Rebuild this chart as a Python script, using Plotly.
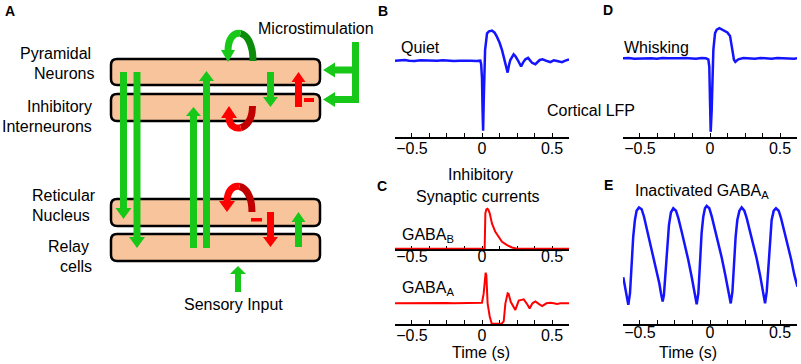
import plotly.graph_objects as go

W, H = 801, 364

# ---------------- data ----------------
# B: cortical LFP, quiet
b_t = [-0.621, -0.58, -0.55, -0.52, -0.48, -0.44, -0.40, -0.36, -0.32, -0.28, -0.24, -0.20, -0.16, -0.12,
       -0.08, -0.04, -0.012, -0.006, 0.0, 0.004, 0.008, 0.012, 0.016, 0.022, 0.036, 0.05, 0.071, 0.09,
       0.107, 0.125, 0.143, 0.155, 0.167, 0.183, 0.193, 0.202, 0.226, 0.24, 0.255, 0.279, 0.295, 0.31,
       0.329, 0.345, 0.357, 0.381, 0.40, 0.412, 0.433, 0.45, 0.464, 0.488, 0.512, 0.536, 0.55, 0.571,
       0.595, 0.621]
b_v = [0.0, 0.005, 0.01, 0.0, -0.005, 0.005, 0.0, -0.005, 0.0, 0.008, 0.0, -0.005, 0.0, 0.005,
       0.0, -0.005, 0.0, -0.05, -0.25, -0.7, -1.0, -0.6, -0.2, 0.15, 0.39, 0.42, 0.43, 0.40,
       0.34, 0.26, 0.15, 0.06, -0.04, -0.17, -0.06, 0.01, 0.09, 0.06, 0.01, -0.08, -0.02, 0.02,
       0.04, 0.0, -0.03, -0.05, -0.01, 0.01, 0.02, 0.0, -0.005, -0.02, 0.005, -0.005, -0.01, -0.02,
       0.0, 0.02]

# D: cortical LFP, whisking
d_t = [-0.624, -0.58, -0.54, -0.50, -0.46, -0.42, -0.38, -0.34, -0.30, -0.26, -0.22, -0.18, -0.14, -0.10,
       -0.06, -0.03, -0.012, -0.005, 0.0, 0.005, 0.012, 0.017, 0.024, 0.036, 0.048, 0.067, 0.095, 0.124,
       0.143, 0.157, 0.171, 0.181, 0.202, 0.238, 0.28, 0.32, 0.36, 0.40, 0.44, 0.48, 0.52, 0.56, 0.60, 0.621]
d_v = [0.0, 0.005, -0.005, 0.0, 0.005, 0.0, -0.005, 0.005, 0.0, -0.005, 0.0, 0.005, 0.0, -0.005,
       0.005, 0.0, -0.015, -0.12, -0.6, -1.05, -0.74, -0.26, 0.12, 0.36, 0.41, 0.43, 0.40, 0.37,
       0.32, 0.17, -0.02, -0.05, -0.015, 0.005, 0.0, -0.005, 0.005, 0.0, -0.005, 0.005, 0.0, 0.005, -0.005, 0.0]

# C: GABA_B current
gb_t = [-0.621, -0.4, -0.2, 0.0, 0.019, 0.024, 0.031, 0.038, 0.045, 0.055, 0.071, 0.095, 0.119, 0.143,
        0.179, 0.214, 0.25, 0.4, 0.621]
gb_v = [0, 0, 0, 0, 0, 1.18, 1.31, 1.33, 1.3, 1.18, 0.84, 0.56, 0.38, 0.23,
        0.12, 0.04, 0, 0, 0]

# C: GABA_A current
ga_t = [-0.621, -0.55, -0.45, -0.35, -0.3, -0.25, -0.2, -0.12, -0.05, -0.012, 0.0, 0.012, 0.021, 0.026,
        0.031, 0.036, 0.040, 0.055, 0.069, 0.10, 0.14, 0.155, 0.167, 0.183, 0.19, 0.205, 0.238, 0.262,
        0.298, 0.325, 0.340, 0.36, 0.381, 0.405, 0.429, 0.46, 0.488, 0.512, 0.536, 0.56, 0.6, 0.621]
ga_v = [0, 0.005, 0, 0.01, 0, 0.01, 0, 0.005, 0, 0, 0.02, 0.33, 0.94, 1.02,
        0.94, 0.33, 0.0, -0.44, -0.67, -0.68, -0.68, -0.6, 0.0, 0.33, 0.31, 0.05, -0.22, 0.09,
        0.13, -0.05, -0.17, 0.0, 0.06, -0.02, -0.09, 0.0, 0.02, 0.0, -0.02, 0.0, 0.0, 0.0]

# E: LFP with inactivated GABA_A
e_t = [-0.619, -0.600, -0.583, -0.571, -0.560, -0.548, -0.536, -0.524, -0.507, -0.488, -0.471, -0.452, -0.429, -0.405, -0.381, -0.362, -0.350, -0.338,
       -0.329, -0.317, -0.305, -0.293, -0.279, -0.262, -0.243, -0.226, -0.202, -0.179, -0.155, -0.131, -0.114, -0.095,
       -0.083, -0.071, -0.060, -0.048, -0.036, -0.024, -0.005, 0.012, 0.036, 0.060, 0.083, 0.107, 0.126, 0.148,
       0.160, 0.171, 0.183, 0.195, 0.210, 0.226, 0.245, 0.262, 0.286, 0.310, 0.333, 0.357, 0.374, 0.393,
       0.405, 0.417, 0.429, 0.440, 0.455, 0.471, 0.490, 0.507, 0.531, 0.555, 0.579, 0.602, 0.624]
e_v = [0.90, 0.37, -0.02, 0.37, 1.37, 2.26, 2.81, 3.12, 3.23, 3.17, 2.92, 2.53, 2.09, 1.64, 1.14, 0.70, 0.37, 0.09,
       0.31, 1.14, 2.03, 2.64, 3.06, 3.20, 3.12, 2.87, 2.42, 1.98, 1.48, 0.92, 0.42, 0.00,
       0.37, 1.37, 2.37, 2.92, 3.20, 3.28, 3.20, 2.94, 2.50, 2.03, 1.57, 1.03, 0.53, 0.03,
       0.42, 1.37, 2.26, 2.81, 3.12, 3.23, 3.12, 2.87, 2.42, 1.98, 1.53, 0.98, 0.48, 0.03,
       0.42, 1.37, 2.26, 2.81, 3.12, 3.20, 3.12, 2.87, 2.42, 1.98, 1.50, 0.98, 0.59]

tick_step = 0.5
minor_step = 0.125

BLUE = 'rgb(20,20,255)'
RED = '#FF0000'
GREEN = '#18C818'
DGREEN = '#0B8C0B'
DRED = '#C00000'
PEACH = '#F8C49C'
FONT = 'Liberation Sans, Arial, sans-serif'


def X(x):
    return x / W


def Y(y):
    return 1 - y / H


def P(x, y):
    return f"{X(x):.5f},{Y(y):.5f}"


fig = go.Figure()
fig.add_trace(go.Scatter(x=b_t, y=b_v, xaxis='x', yaxis='y', mode='lines', line=dict(color=BLUE, width=2.5)))
fig.add_trace(go.Scatter(x=d_t, y=d_v, xaxis='x2', yaxis='y2', mode='lines', line=dict(color=BLUE, width=2.5)))
fig.add_trace(go.Scatter(x=gb_t, y=gb_v, xaxis='x3', yaxis='y3', mode='lines', line=dict(color=RED, width=2)))
fig.add_trace(go.Scatter(x=ga_t, y=ga_v, xaxis='x4', yaxis='y4', mode='lines', line=dict(color=RED, width=2)))
fig.add_trace(go.Scatter(x=e_t, y=e_v, xaxis='x5', yaxis='y5', mode='lines', line=dict(color=BLUE, width=2.5)))


def xax(dom, rng, anchor, standoff, layer='above traces'):
    return dict(domain=[X(dom[0]), X(dom[1])], range=rng, anchor=anchor, showline=True, linecolor='black',
                linewidth=1.5, ticks='inside', ticklen=4, tickwidth=1, tickcolor='black', tickmode='linear',
                tick0=0, dtick=tick_step, ticklabelstandoff=standoff,
                minor=dict(ticks='inside', ticklen=4, tickwidth=1, tickcolor='black', dtick=minor_step, tick0=0),
                showgrid=False, zeroline=False, tickfont=dict(size=16, family=FONT, color='black'),
                layer=layer, fixedrange=True)


def yax(bottom, top, rng, anchor):
    return dict(domain=[Y(bottom), Y(top)], range=rng, anchor=anchor, visible=False, fixedrange=True)


fig.update_layout(
    xaxis=xax((395, 569), [-0.621, 0.621], 'y', -4),
    yaxis=yax(137, 25, [-1.09, 0.51], 'x'),
    xaxis2=xax((623, 797), [-0.621, 0.621], 'y2', -4),
    yaxis2=yax(137, 25, [-1.124, 0.476], 'x2'),
    xaxis3=xax((395, 569), [-0.621, 0.621], 'y3', -8, layer='below traces'),
    yaxis3=yax(249.3, 200, [-0.02, 1.623], 'x3'),
    xaxis4=xax((395, 569), [-0.621, 0.621], 'y4', -4, layer='below traces'),
    yaxis4=yax(324, 262, [-0.69, 1.377], 'x4'),
    xaxis5=xax((623, 797), [-0.621, 0.621], 'y5', -6),
    yaxis5=yax(323.5, 200, [-0.64, 3.477], 'x5'),
)

# ---------------- schematic (panel A) ----------------
shapes = []


def poly(pts, color):
    path = 'M ' + ' L '.join(P(x, y) for x, y in pts) + ' Z'
    shapes.append(dict(type='path', path=path, xref='paper', yref='paper', fillcolor=color,
                       line=dict(width=0), layer='above'))


def varrow(cx, y0, ytip, w, hw, hl, color):
    s = 1 if ytip > y0 else -1
    yb = ytip - s * hl
    poly([(cx - w / 2, y0), (cx + w / 2, y0), (cx + w / 2, yb), (cx + hw / 2, yb), (cx, ytip),
          (cx - hw / 2, yb), (cx - w / 2, yb)], color)


def harrow(x0, cy, xtip, w, hw, hl, color):
    s = 1 if xtip > x0 else -1
    xb = xtip - s * hl
    poly([(x0, cy - w / 2), (x0, cy + w / 2), (xb, cy + w / 2), (xb, cy + hw / 2), (xtip, cy),
          (xb, cy - hw / 2), (xb, cy - w / 2)], color)


def rrect(x0, y0, x1, y1, r):
    path = (f"M {P(x0 + r, y0)} L {P(x1 - r, y0)} Q {P(x1, y0)} {P(x1, y0 + r)} "
            f"L {P(x1, y1 - r)} Q {P(x1, y1)} {P(x1 - r, y1)} L {P(x0 + r, y1)} "
            f"Q {P(x0, y1)} {P(x0, y1 - r)} L {P(x0, y0 + r)} Q {P(x0, y0)} {P(x0 + r, y0)} Z")
    shapes.append(dict(type='path', path=path, xref='paper', yref='paper', fillcolor=PEACH,
                       line=dict(color='black', width=2.5), layer='above'))


def curve(p0, p1, p2, p3, color, width=7):
    path = f"M {P(*p0)} C {P(*p1)} {P(*p2)} {P(*p3)}"
    shapes.append(dict(type='path', path=path, xref='paper', yref='paper', fillcolor='rgba(0,0,0,0)',
                       line=dict(color=color, width=width), layer='above'))


def rect(x0, y0, x1, y1, color):
    poly([(x0, y0), (x1, y0), (x1, y1), (x0, y1)], color)


# boxes
rrect(111, 59, 320, 85, 6)
rrect(111, 94, 320, 121, 6)
rrect(111, 199, 320, 226, 6)
rrect(111, 234, 320, 261, 6)

# long projection arrows
varrow(123.5, 72, 219, 7, 16, 11, GREEN)
varrow(137, 72, 248, 7, 16, 11, GREEN)
varrow(206.5, 248, 71, 7, 15, 10, GREEN)
varrow(193.5, 248, 107, 7, 15, 9, GREEN)
# cortex local arrows
varrow(270.5, 72, 107, 7, 15, 10, GREEN)
varrow(298.5, 107, 72, 7, 14, 10, RED)
rect(304, 98, 314, 102, RED)
# thalamus local arrows
varrow(270.5, 212, 247, 7, 15, 10, RED)
varrow(298.5, 247, 212, 7, 14, 10, GREEN)
rect(251, 218, 262, 221.5, RED)
# sensory input
varrow(238, 292, 266, 6, 16, 8, GREEN)
# microstimulation bracket
rect(352, 42, 359, 103, GREEN)
harrow(356, 70, 323, 7, 15, 12, GREEN)
harrow(356, 99.5, 323, 7, 15, 12, GREEN)

# curved recurrent arrows
curve((253, 61), (253, 43.5), (246.75, 34.75), (240.5, 33.4), DGREEN)
curve((240.5, 33.4), (234.25, 32), (228, 38), (228, 51), GREEN)
poly([(221, 50), (235, 50), (228, 62)], GREEN)

curve((252.5, 106), (252.5, 119.5), (246.6, 126.25), (240.75, 127.75), DRED)
curve((240.75, 127.75), (234.9, 129.25), (229, 125.5), (229, 117), RED)
poly([(221, 118), (237, 118), (229, 106)], RED)

curve((252, 212), (252, 195.9), (245.75, 187.85), (239.5, 186.5), DRED)
curve((239.5, 186.5), (233.25, 185.1), (227, 190.4), (227, 202), RED)
poly([(219, 201), (235, 201), (227, 212)], RED)

fig.update_layout(shapes=shapes)

# ---------------- text ----------------
ann = []


def text(s, x, y, size=16, bold=False, xanchor='center', yanchor='middle'):
    ann.append(dict(text=f"<b>{s}</b>" if bold else s, x=X(x), y=Y(y), xref='paper', yref='paper',
                    xanchor=xanchor, yanchor=yanchor, showarrow=False,
                    font=dict(size=size, family=FONT, color='black')))


for s, x, y in [('A', 10, 11), ('B', 383, 11), ('D', 608, 10), ('C', 382, 186), ('E', 608, 185)]:
    text(s, x, y, size=14, bold=True)

for s, x, y in [('Microstimulation', 316, 29), ('Pyramidal', 55, 53), ('Neurons', 63.5, 74),
                ('Inhibitory', 59.5, 106), ('Interneurons', 46.5, 126), ('Reticular', 63.5, 195),
                ('Nucleus', 60.5, 215), ('Relay', 68.5, 246), ('cells', 76, 266),
                ('Sensory Input', 233, 304), ('Quiet', 420.5, 47.5), ('Whisking', 656.5, 48),
                ('Cortical LFP', 591, 110), ('Inhibitory', 480, 174), ('Synaptic currents', 477.5, 196),
                ('Time (s)', 481, 352), ('Time (s)', 688, 352)]:
    text(s, x, y)

text('GABA<sub>B</sub>', 400, 235, xanchor='left')
text('GABA<sub>A</sub>', 400, 288.5, xanchor='left')
text('Inactivated GABA<sub>A</sub>', 633, 191, xanchor='left')

fig.update_layout(annotations=ann, width=W, height=H, margin=dict(l=0, r=0, t=0, b=0),
                  paper_bgcolor='white', plot_bgcolor='rgba(0,0,0,0)', showlegend=False,
                  font=dict(family=FONT, size=16, color='black'))

fig.write_html('out.html', config={'displayModeBar': False},
               post_script="document.body.style.margin='0px';document.body.style.overflow='hidden';")
